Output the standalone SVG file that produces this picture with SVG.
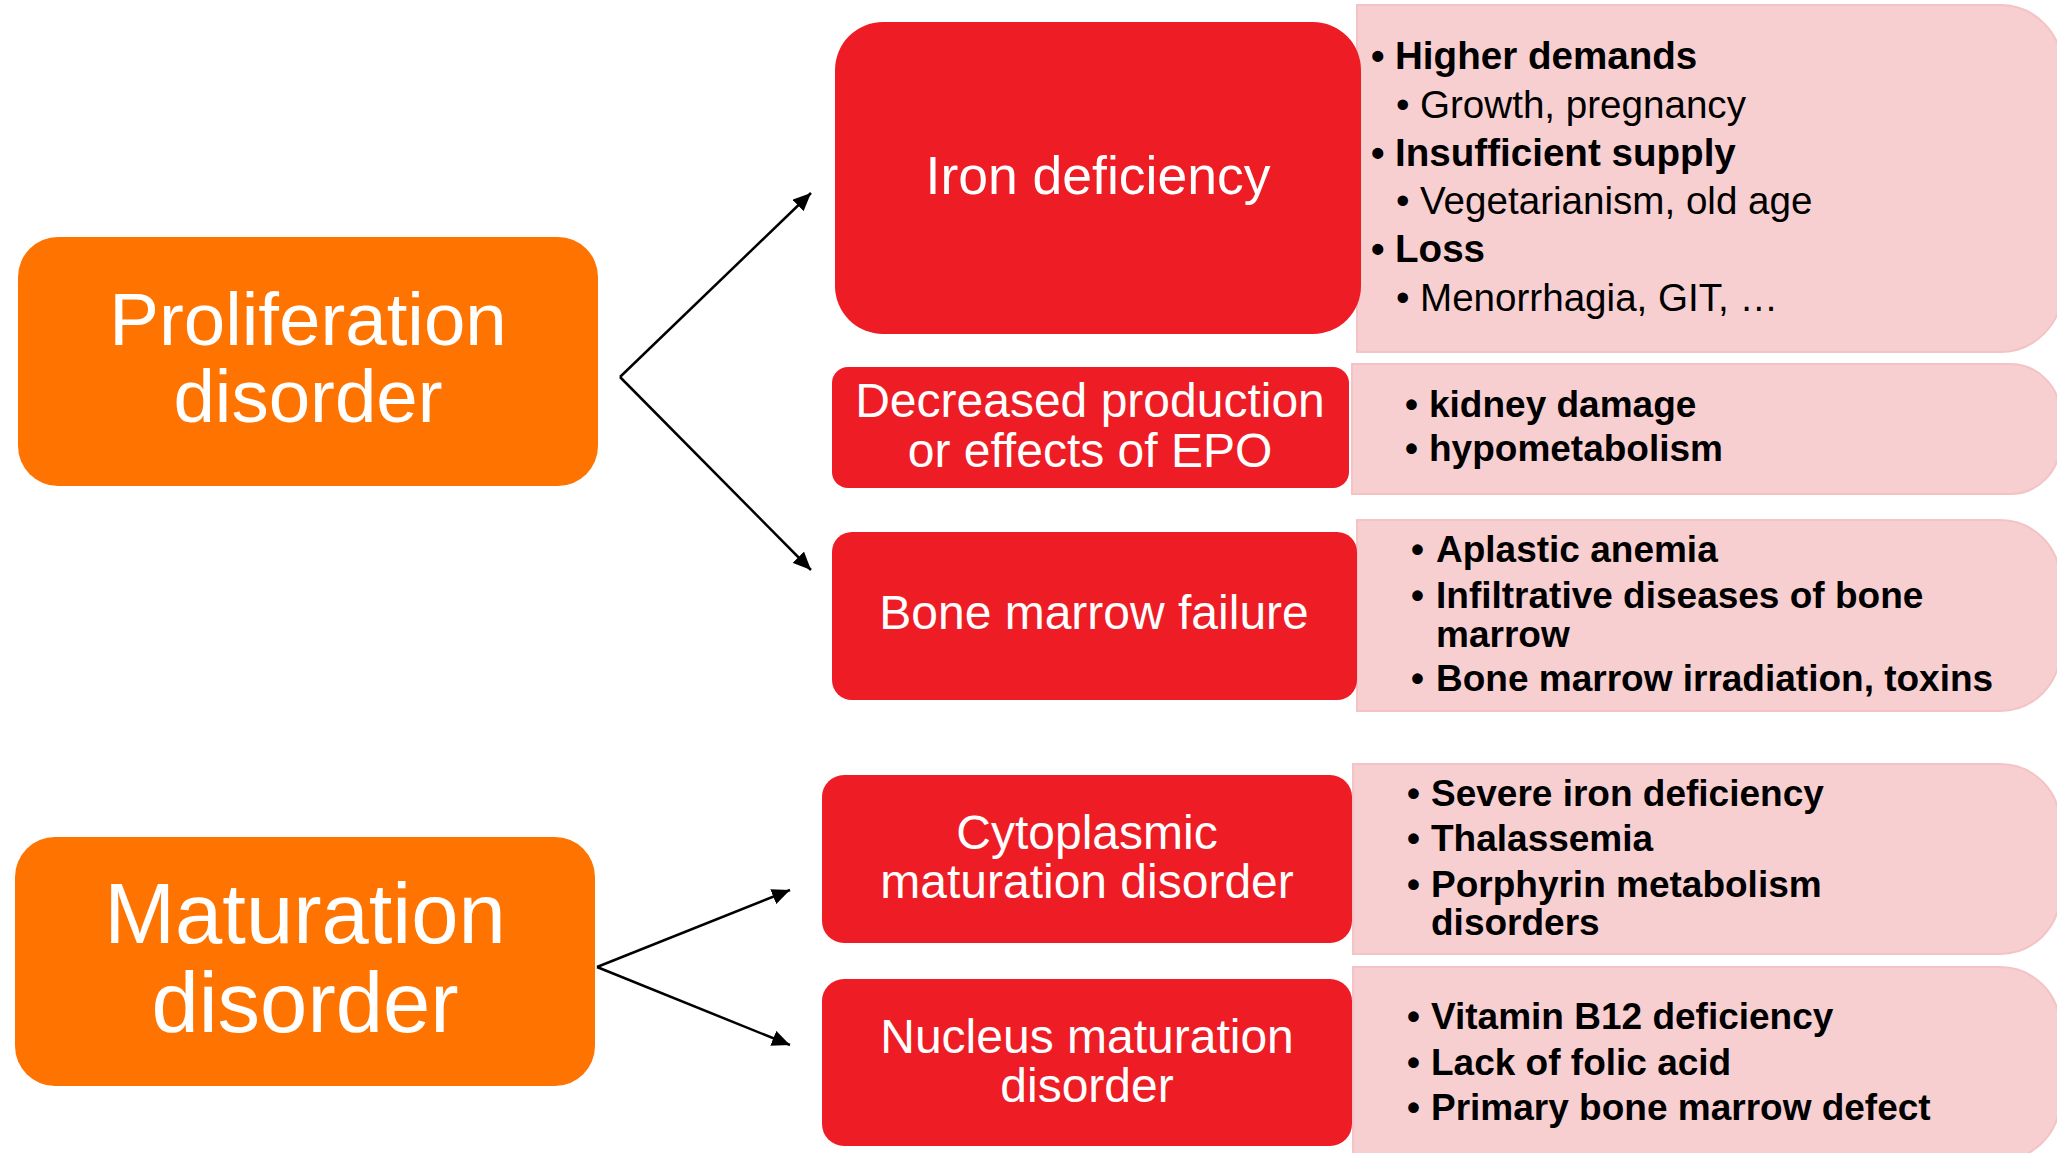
<svg xmlns="http://www.w3.org/2000/svg" width="2057" height="1153" viewBox="0 0 2057 1153">
<defs>
<style>
.cat{fill:#FF7400}
.sub{fill:#EE1C25}
.det{fill:#F8CFD0;stroke:#F3C3C5;stroke-width:2}
.ct{font-family:"Liberation Sans",Arial,sans-serif;fill:#FFFFFF;text-anchor:middle}
.bt{font-family:"Liberation Sans",Arial,sans-serif;fill:#000000}
.b{font-weight:bold}
.con{stroke:#000;stroke-width:2.5;fill:none;marker-end:url(#arr)}
</style>
<marker id="arr" markerUnits="userSpaceOnUse" markerWidth="20" markerHeight="16" refX="18" refY="8" orient="auto">
<path d="M0,0 L18,8 L0,16 z" fill="#000"/>
</marker>
</defs>
<rect width="2057" height="1153" fill="#FFFFFF"/>

<g id="connectors">
<line class="con" x1="620" y1="377" x2="811" y2="193"/>
<line class="con" x1="620" y1="377" x2="811" y2="570"/>
<line class="con" x1="597" y1="967" x2="790" y2="890"/>
<line class="con" x1="597" y1="967" x2="790" y2="1045"/>
</g>

<g id="proliferation">
<rect class="cat" x="18" y="237" width="580" height="249" rx="40" ry="40"/>
<text class="ct" font-size="74.5"><tspan x="308" y="345">Proliferation</tspan><tspan x="308" y="422">disorder</tspan></text>
</g>

<g id="maturation">
<rect class="cat" x="15" y="837" width="580" height="249" rx="40" ry="40"/>
<text class="ct" font-size="85"><tspan x="305" y="943">Maturation</tspan><tspan x="305" y="1032">disorder</tspan></text>
</g>

<g id="iron-details">
<path class="det" d="M1357,5 H2000 A62,62 0 0 1 2062,67 V290 A62,62 0 0 1 2000,352 H1357 Z"/>
<text class="bt" font-size="38.6">
<tspan class="b" x="1371" y="69">•</tspan><tspan class="b" x="1395" y="69">Higher demands</tspan>
<tspan x="1396" y="118">•</tspan><tspan x="1420" y="118">Growth, pregnancy</tspan>
<tspan class="b" x="1371" y="166">•</tspan><tspan class="b" x="1395" y="166">Insufficient supply</tspan>
<tspan x="1396" y="214">•</tspan><tspan x="1420" y="214">Vegetarianism, old age</tspan>
<tspan class="b" x="1371" y="262">•</tspan><tspan class="b" x="1395" y="262">Loss</tspan>
<tspan x="1396" y="311">•</tspan><tspan x="1420" y="311">Menorrhagia, GIT, …</tspan>
</text>
</g>

<g id="iron">
<rect class="sub" x="835" y="22" width="526" height="312" rx="48" ry="48"/>
<text class="ct" font-size="53.5" x="1098" y="194">Iron deficiency</text>
</g>

<g id="epo-details">
<path class="det" d="M1352,364 H2010 A50,50 0 0 1 2060,414 V444 A50,50 0 0 1 2010,494 H1352 Z"/>
<text class="bt b" font-size="37">
<tspan x="1405" y="417">•</tspan><tspan x="1429" y="417">kidney damage</tspan>
<tspan x="1405" y="461">•</tspan><tspan x="1429" y="461">hypometabolism</tspan>
</text>
</g>

<g id="epo">
<rect class="sub" x="832" y="367" width="517" height="121" rx="16" ry="16"/>
<text class="ct" font-size="48"><tspan x="1090" y="417">Decreased production</tspan><tspan x="1090" y="467">or effects of EPO</tspan></text>
</g>

<g id="marrow-details">
<path class="det" d="M1357,520 H2000 A60,60 0 0 1 2060,580 V651 A60,60 0 0 1 2000,711 H1357 Z"/>
<text class="bt b" font-size="37">
<tspan x="1411" y="562">•</tspan><tspan x="1436" y="562">Aplastic anemia</tspan>
<tspan x="1411" y="608">•</tspan><tspan x="1436" y="608">Infiltrative diseases of bone</tspan>
<tspan x="1436" y="647">marrow</tspan>
<tspan x="1411" y="691">•</tspan><tspan x="1436" y="691">Bone marrow irradiation, toxins</tspan>
</text>
</g>

<g id="marrow">
<rect class="sub" x="832" y="532" width="525" height="168" rx="20" ry="20"/>
<text class="ct" font-size="48" x="1094" y="629">Bone marrow failure</text>
</g>

<g id="cyto-details">
<path class="det" d="M1353,764 H2000 A60,60 0 0 1 2060,824 V894 A60,60 0 0 1 2000,954 H1353 Z"/>
<text class="bt b" font-size="37">
<tspan x="1407" y="806">•</tspan><tspan x="1431" y="806">Severe iron deficiency</tspan>
<tspan x="1407" y="851">•</tspan><tspan x="1431" y="851">Thalassemia</tspan>
<tspan x="1407" y="897">•</tspan><tspan x="1431" y="897">Porphyrin metabolism</tspan>
<tspan x="1431" y="935">disorders</tspan>
</text>
</g>

<g id="cyto">
<rect class="sub" x="822" y="775" width="530" height="168" rx="22" ry="22"/>
<text class="ct" font-size="48"><tspan x="1087" y="849">Cytoplasmic</tspan><tspan x="1087" y="898">maturation disorder</tspan></text>
</g>

<g id="nucleus-details">
<path class="det" d="M1353,967 H2000 A60,60 0 0 1 2060,1027 V1100 A60,60 0 0 1 2000,1160 H1353 Z"/>
<text class="bt b" font-size="37">
<tspan x="1407" y="1029">•</tspan><tspan x="1431" y="1029">Vitamin B12 deficiency</tspan>
<tspan x="1407" y="1075">•</tspan><tspan x="1431" y="1075">Lack of folic acid</tspan>
<tspan x="1407" y="1120">•</tspan><tspan x="1431" y="1120">Primary bone marrow defect</tspan>
</text>
</g>

<g id="nucleus">
<rect class="sub" x="822" y="979" width="530" height="167" rx="22" ry="22"/>
<text class="ct" font-size="48"><tspan x="1087" y="1053">Nucleus maturation</tspan><tspan x="1087" y="1102">disorder</tspan></text>
</g>
</svg>
